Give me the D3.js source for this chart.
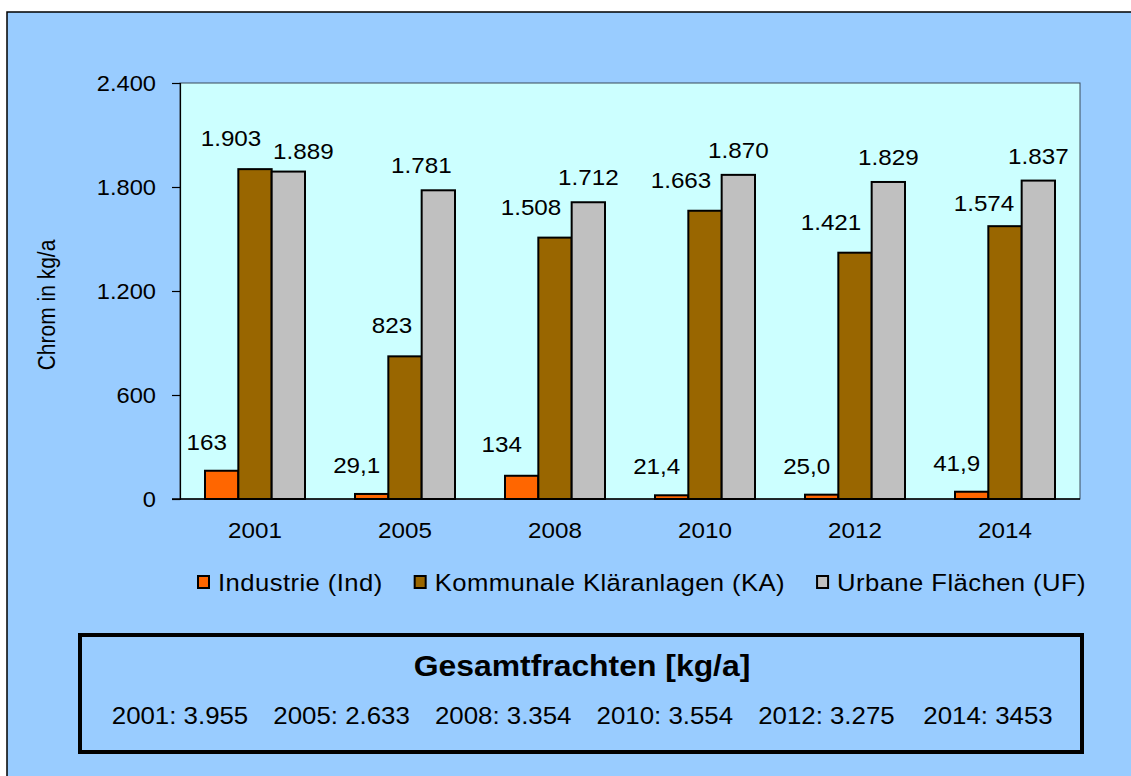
<!DOCTYPE html>
<html>
<head>
<meta charset="utf-8">
<script src="https://cdn.jsdelivr.net/npm/d3@7"></script>
<style>
  html, body { margin: 0; padding: 0; background: #ffffff; overflow: hidden; }
  svg { display: block; }
  text { font-family: "Liberation Sans", Arial, sans-serif; fill: #000; }
</style>
</head>
<body>
<svg id="chart" width="1131" height="776"></svg>
<script>
// ---------- data ----------
const years = ["2001", "2005", "2008", "2010", "2012", "2014"];
const seriesNames = ["Industrie (Ind)", "Kommunale Kläranlagen (KA)", "Urbane Flächen (UF)"];
const industrie = [163, 29.1, 134, 21.4, 25.0, 41.9];
const kommunale = [1903, 823, 1508, 1663, 1421, 1574];
const urbane = [1889, 1781, 1712, 1870, 1829, 1837];
const industrieLabels = ["163", "29,1", "134", "21,4", "25,0", "41,9"];
const kommunaleLabels = ["1.903", "823", "1.508", "1.663", "1.421", "1.574"];
const urbaneLabels = ["1.889", "1.781", "1.712", "1.870", "1.829", "1.837"];
const yTicks = [0, 600, 1200, 1800, 2400];
const yTickLabels = ["0", "600", "1.200", "1.800", "2.400"];
const yTitle = "Chrom in kg/a";
const boxTitle = "Gesamtfrachten [kg/a]";
const totals = ["2001: 3.955", "2005: 2.633", "2008: 3.354", "2010: 3.554", "2012: 3.275", "2014: 3453"];

// ---------- styles / layout ----------
const colors = ["#FF6600", "#996600", "#C0C0C0"];
const labelOffsets = [[-15, -21], [-24, -23], [0, -17]];
// manual label nudges (series index -> year index -> [dx, dy])
const labelNudges = { "2-0": [15, 4], "2-1": [-17, 0], "1-1": [11, 0], "1-5": [3, 8], "0-2": [-5, -3] };
const SX = 1.1; // horizontal text stretch of the original rendering

const svg = d3.select("#chart");

// outer frame
svg.append("rect").attr("x", 7).attr("y", 12).attr("width", 1200).attr("height", 900)
  .attr("fill", "#99CCFF").attr("stroke", "#000").attr("stroke-width", 1.5);

// plot area
const plot = { left: 180, top: 83, right: 1080, bottom: 499 };
svg.append("rect").attr("x", plot.left).attr("y", plot.top)
  .attr("width", plot.right - plot.left).attr("height", plot.bottom - plot.top)
  .attr("fill", "#CCFFFF").attr("stroke", "#3a4a5a").attr("stroke-width", 1);

const y = d3.scaleLinear().domain([0, 2400]).range([plot.bottom, plot.top]);
const x0 = d3.scaleBand().domain(years).range([plot.left, plot.right])
  .paddingInner(1 / 3).paddingOuter(1 / 6);
const x1 = d3.scaleBand().domain(d3.range(3)).range([0, x0.bandwidth()]);

function stretched(sel, px, py) {
  return sel.attr("transform", `translate(${px},${py}) scale(${SX},1)`);
}

// y axis
const yAxis = d3.axisLeft(y).tickValues(yTicks).tickSize(8)
  .tickFormat((d, i) => yTickLabels[i]);
const gy = svg.append("g").attr("transform", `translate(${plot.left},0)`).call(yAxis);
gy.select(".domain").attr("stroke", "#000").attr("stroke-width", 1.2);
gy.selectAll(".tick line").attr("stroke", "#000").attr("stroke-width", 1.2);
gy.selectAll(".tick text").each(function () {
  d3.select(this).attr("x", null).attr("dy", null).attr("text-anchor", "end")
   .attr("font-size", "21.5px").attr("font-family", "Liberation Sans, Arial, sans-serif")
   .attr("fill", "#000")
   .attr("transform", `translate(-24,7.8) scale(${SX},1)`);
});

// x axis
const xAxis = d3.axisBottom(x0).tickSize(0).tickPadding(0);
const gx = svg.append("g").attr("transform", `translate(0,${plot.bottom})`).call(xAxis);
gx.select(".domain").attr("stroke", "#000").attr("stroke-width", 1.5)
  .attr("d", `M${plot.left - 8},0H${plot.right}`);
gx.selectAll(".tick text").attr("y", null).attr("dy", null)
  .attr("font-size", "22px").attr("font-family", "Liberation Sans, Arial, sans-serif").attr("fill", "#000")
  .attr("text-anchor", "middle")
  .attr("transform", `translate(0,39) scale(${SX},1)`);

// bars
const seriesValues = [industrie, kommunale, urbane];
const seriesLabels = [industrieLabels, kommunaleLabels, urbaneLabels];
const barData = [];
years.forEach((yr, i) => {
  seriesValues.forEach((vals, s) => {
    barData.push({ year: yr, i: i, s: s, v: vals[i], label: seriesLabels[s][i] });
  });
});

svg.append("g").selectAll("rect").data(barData).join("rect")
  .attr("x", d => x0(d.year) + x1(d.s))
  .attr("y", d => y(d.v))
  .attr("width", x1.bandwidth())
  .attr("height", d => y(0) - y(d.v))
  .attr("fill", d => colors[d.s])
  .attr("stroke", "#000").attr("stroke-width", 2);

// data labels
svg.append("g").selectAll("text").data(barData).join("text")
  .attr("text-anchor", "middle").attr("font-size", "22px")
  .each(function (d) {
    const n = labelNudges[d.s + "-" + d.i] || [0, 0];
    const cx = x0(d.year) + x1(d.s) + x1.bandwidth() / 2 + labelOffsets[d.s][0] + n[0];
    const cy = y(d.v) + labelOffsets[d.s][1] + n[1];
    stretched(d3.select(this), cx, cy);
  })
  .text(d => d.label);

// y axis title
svg.append("text").attr("text-anchor", "middle").attr("font-size", "21px")
  .attr("transform", `translate(55,305) scale(${SX},1) rotate(-90)`)
  .text(yTitle);

// legend
const legend = svg.append("g");
let lx = 198;
seriesNames.forEach((name, s) => {
  legend.append("rect").attr("x", lx).attr("y", 576).attr("width", 11).attr("height", 12)
    .attr("fill", colors[s]).attr("stroke", "#000").attr("stroke-width", 2);
  const t = legend.append("text").attr("font-size", "23.3px").attr("letter-spacing", "0.4px")
    .text(name);
  stretched(t, lx + 20, 591);
  const w = t.node().getComputedTextLength() * SX;
  lx = lx + 20 + w + 32;
});

// summary box
svg.append("rect").attr("x", 80).attr("y", 635).attr("width", 1002).attr("height", 117)
  .attr("fill", "none").attr("stroke", "#000").attr("stroke-width", 4);
const tt = svg.append("text").attr("text-anchor", "middle").attr("font-size", "29px")
  .attr("font-weight", "bold").text(boxTitle);
stretched(tt, 582, 676);

const xt = d3.scalePoint().domain(totals).range([180, 988]);
totals.forEach(s => {
  const t = svg.append("text").attr("text-anchor", "middle").attr("font-size", "23.5px").text(s);
  stretched(t, xt(s), 724);
});
</script>
</body>
</html>
